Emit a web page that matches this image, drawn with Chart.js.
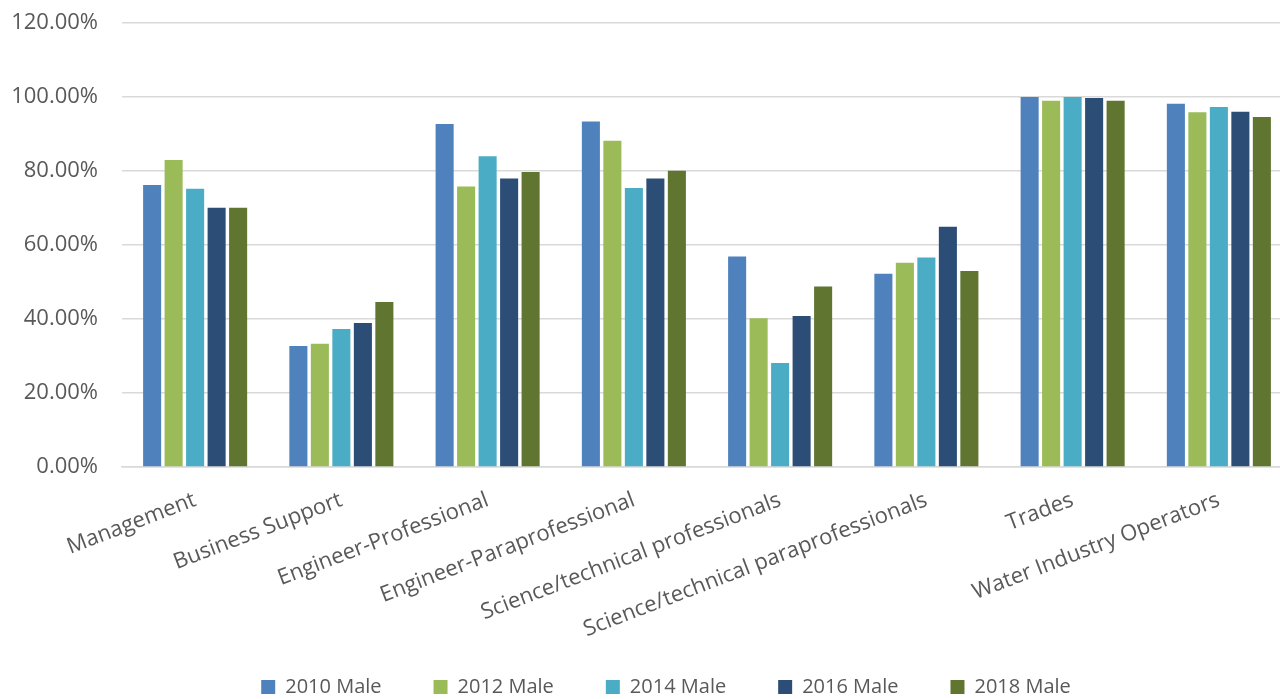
<!DOCTYPE html>
<html>
<head>
<meta charset="utf-8">
<script src="https://cdn.jsdelivr.net/npm/chart.js@4/dist/chart.umd.min.js"></script>
<style>
  html, body { margin: 0; padding: 0; background: #ffffff; overflow: hidden; }
  #wrap { width: 1292px; height: 699px; position: relative; }
</style>
</head>
<body>
<div id="wrap"><canvas id="chart"></canvas></div>
<script>
// Occupational groups on the category axis
const categories = [
  'Management',
  'Business Support',
  'Engineer-Professional',
  'Engineer-Paraprofessional',
  'Science/technical professionals',
  'Science/technical paraprofessionals',
  'Trades',
  'Water Industry Operators'
];

// Share of male employees (%) per survey year
const male2010 = [76.2, 32.7, 92.7, 93.4, 56.9, 52.2, 100.0, 98.2];
const male2012 = [83.0, 33.3, 75.8, 88.2, 40.2, 55.2, 99.0, 95.9];
const male2014 = [75.2, 37.3, 84.0, 75.4, 28.1, 56.6, 100.0, 97.3];
const male2016 = [70.1, 38.9, 78.0, 78.0, 40.8, 64.9, 99.7, 96.0];
const male2018 = [70.1, 44.6, 79.7, 80.1, 48.8, 53.0, 99.0, 94.6];

const seriesNames = ['2010 Male', '2012 Male', '2014 Male', '2016 Male', '2018 Male'];
const seriesColors = ['#4F81BD', '#9BBB59', '#4BACC6', '#2C4D75', '#5F7530'];
const seriesValues = [male2010, male2012, male2014, male2016, male2018];

const yTickMin = 0;
const yTickMax = 120;
const yTickStep = 20;

const datasets = seriesNames.map((name, i) => ({
  label: name,
  data: seriesValues[i],
  backgroundColor: seriesColors[i],
  borderWidth: 0,
  barPercentage: 0.84,
  categoryPercentage: 0.735
}));

const tickColor = '#595959';
const fontFamily = '"Open Sans", "DejaVu Sans", sans-serif';

// Move the legend row right of centre and raise its top edge, so the
// wide item spacing does not push the row off the bottom of the canvas
const legendShift = {
  id: 'legendShift',
  afterLayout(chart) {
    const lg = chart.legend;
    if (lg) {
      lg.left += 20; lg.right += 20;
      lg.top -= 32;
    }
  }
};

new Chart(document.getElementById('chart'), {
  type: 'bar',
  data: { labels: categories, datasets },
  plugins: [legendShift],
  options: {
    responsive: true,
    maintainAspectRatio: false,
    animation: false,
    layout: { padding: { top: 23, left: 0, right: 0, bottom: 0 } },
    plugins: {
      tooltip: { enabled: false },
      legend: {
        position: 'bottom',
        maxHeight: 42,
        labels: {
          boxWidth: 14,
          boxHeight: 14,
          padding: 52,
          color: tickColor,
          font: { family: fontFamily, size: 20 }
        }
      }
    },
    scales: {
      x: {
        grid: { display: false },
        border: { display: true, color: '#d9d9d9', width: 1.5 },
        ticks: {
          color: tickColor,
          font: { family: fontFamily, size: 22 },
          minRotation: 21,
          maxRotation: 21,
          autoSkip: false,
          padding: 12
        },
        afterFit: (axis) => { axis.height = 190; }
      },
      y: {
        min: yTickMin,
        max: yTickMax,
        grid: { color: '#d9d9d9', lineWidth: 1.5, drawTicks: false },
        border: { display: false },
        ticks: {
          stepSize: yTickStep,
          padding: 24,
          color: tickColor,
          font: { family: fontFamily, size: 22 },
          callback: (v) => v.toFixed(2) + '%'
        },
        afterFit: (axis) => {
          axis.width = 122;
          axis.paddingTop = 0;
          axis.paddingBottom = 0;
        }
      }
    }
  }
});
</script>
</body>
</html>
